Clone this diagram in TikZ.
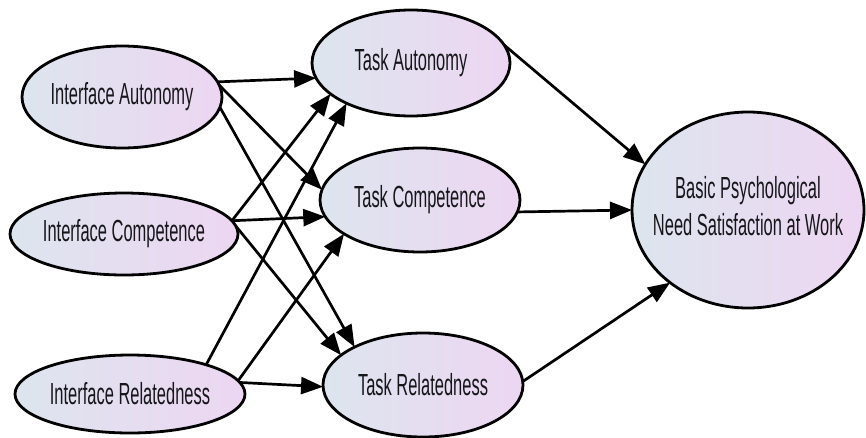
\documentclass[tikz,border=0pt]{standalone}
\usepackage{fontspec}
\setmainfont[FakeStretch=0.54]{Liberation Sans}
\usetikzlibrary{arrows.meta,shapes.geometric}
\definecolor{fillL}{RGB}{221,229,238}
\definecolor{fillR}{RGB}{237,214,242}
\definecolor{ink}{RGB}{22,22,26}
\tikzset{
  construct/.style={ellipse, draw=black, line width=2.8pt,
    left color=fillL, right color=fillR, inner sep=0pt, outer sep=0pt,
    font=\fontsize{30.5}{37}\selectfont, text=ink},
  link/.style={line width=2.7pt, -{Triangle[length=22pt,width=17pt]}}
}
\begin{document}
\begin{tikzpicture}[x=1pt,y=-1pt]
  \useasboundingbox (0,0) rectangle (866,437);

  % antecedents: interface need satisfaction
  \node[construct, minimum width=200pt, minimum height=102pt] (ia) at (122,97)
    {\makebox[0pt]{Interface Autonomy}};
  \node[construct, minimum width=228pt, minimum height=82pt] (ic) at (124,234)
    {\makebox[0pt]{Interface Competence}};
  \node[construct, minimum width=230pt, minimum height=78pt] (ir) at (130,394)
    {\makebox[0pt]{Interface Relatedness}};

  % mediators: task need satisfaction
  \node[construct, minimum width=198pt, minimum height=106pt] (ta) at (411,63)
    {\makebox[0pt]{Task Autonomy}};
  \node[construct, minimum width=200pt, minimum height=104pt] (tc) at (420,200)
    {\makebox[0pt]{Task Competence}};
  \node[construct, minimum width=200pt, minimum height=104pt] (tr) at (423,385)
    {\makebox[0pt]{Task Relatedness}};

  % outcome
  \node[construct, minimum width=232pt, minimum height=196pt] (bpn) at (748,210)
    {\makebox[0pt]{\begin{tabular}{@{}c@{}}Basic Psychological\\Need Satisfaction at Work\end{tabular}}};

  % interface -> task paths
  \draw[link] (ia.9) -- (ta.189);
  \draw[link] (ia.7) -- (tc.174);
  \draw[link] (ia.354) -- (tr.151);
  \draw[link] (ic.7) -- (ta.201);
  \draw[link] (ic.7) -- (tc.190);
  \draw[link] (ic.4) -- (tr.160);
  \draw[link] (ir.21) -- (ta.212);
  \draw[link] (ir.7) -- (tc.204);
  \draw[link] (ir.6) -- (tr.181);

  % task -> overall paths
  \draw[link] (ta.11) -- (bpn.156);
  \draw[link] (tc.353) -- (bpn.180);
  \draw[link] (tr.2) -- (bpn.223);
\end{tikzpicture}
\end{document}
